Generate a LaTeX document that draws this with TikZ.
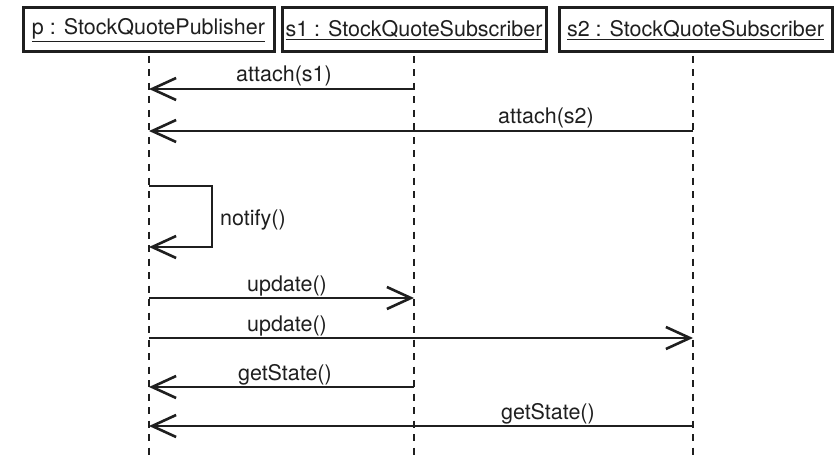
\documentclass[tikz,border=0pt]{standalone}
\usepackage{fontspec}
\setmainfont{TeX Gyre Heros}
\usetikzlibrary{arrows.meta}
\begin{document}
\begin{tikzpicture}[x=1pt,y=-1pt,
  objbox/.style={draw=black!88, line width=3pt, minimum height=44pt, inner sep=0pt, font=\fontsize{21.5}{25}\selectfont, text=black!88},
  lifeline/.style={draw=black!88, line width=2.8pt, dash pattern=on 7pt off 6.5pt},
  msg/.style={draw=black!88, line width=2.6pt, -{Straight Barb[length=24pt,width=22pt,line width=2.6pt]}},
  lbl/.style={inner sep=0pt, anchor=base, font=\fontsize{21.5}{25}\selectfont, text=black!88}]
\useasboundingbox (0,0) rectangle (834,457);
\node[objbox, minimum width=251pt] (P) at (148.5,30) {\underline{p : StockQuotePublisher}};
\node[objbox, minimum width=264pt] (S1) at (414,30) {\underline{s1 : StockQuoteSubscriber}};
\node[objbox, minimum width=273pt] (S2) at (695.5,30) {\underline{s2 : StockQuoteSubscriber}};
% lifeline ends
\coordinate (Pt) at (149,56); \coordinate (Pb) at (149,457);
\coordinate (S1t) at (414,56); \coordinate (S1b) at (414,457);
\coordinate (S2t) at (693,56); \coordinate (S2b) at (693,457);
\draw[lifeline] (Pt) -- (Pb);
\draw[lifeline] (S1t) -- (S1b);
\draw[lifeline] (S2t) -- (S2b);
% message points
\coordinate (p1) at (149,89);  \coordinate (s1a) at (414,89);
\coordinate (p2) at (149,131); \coordinate (s2a) at (693,131);
\coordinate (n1) at (149,186); \coordinate (n2) at (212,186);
\coordinate (n3) at (212,247); \coordinate (n4) at (149,247);
\coordinate (p5) at (149,298); \coordinate (s1b) at (414,298);
\coordinate (p6) at (149,338); \coordinate (s2b) at (693,338);
\coordinate (p7) at (149,387); \coordinate (s1c) at (414,387);
\coordinate (p8) at (149,426); \coordinate (s2c) at (693,426);
\draw[msg] (s1a) -- (p1);
\draw[msg] (s2a) -- (p2);
\draw[msg] (n1) -- (n2) -- (n3) -- (n4);
\draw[msg] (p5) -- (s1b);
\draw[msg] (p6) -- (s2b);
\draw[msg] (s1c) -- (p7);
\draw[msg] (s2c) -- (p8);
% labels
\node[lbl] (l1) at (284,82) {attach(s1)};
\node[lbl] (l2) at (546,124) {attach(s2)};
\node[lbl, anchor=west] (l3) at (220,220) {notify()};
\node[lbl] (l4) at (287,291) {update()};
\node[lbl] (l5) at (287,331) {update()};
\node[lbl] (l6) at (285,380) {getState()};
\node[lbl] (l7) at (548,419) {getState()};
\end{tikzpicture}
\end{document}
